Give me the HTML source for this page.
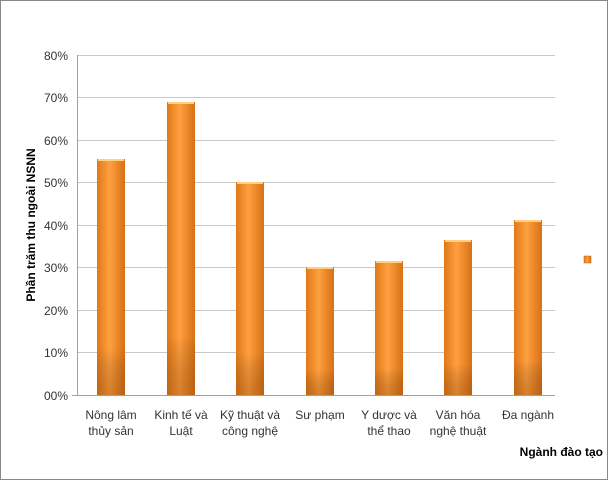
<!DOCTYPE html>
<html><head><meta charset="utf-8"><style>
body{margin:0;background:#fff}
svg{display:block;font-family:"Liberation Sans",sans-serif}
</style></head><body>
<svg width="608" height="480" viewBox="0 0 608 480">
<defs>
<linearGradient id="g" x1="0" x2="1" y1="0" y2="0">
<stop offset="0" stop-color="#e07818"/><stop offset="0.45" stop-color="#ffa040"/><stop offset="1" stop-color="#d87016"/>
</linearGradient>
<linearGradient id="v" x1="0" x2="0" y1="0" y2="1">
<stop offset="0" stop-color="#000" stop-opacity="0"/><stop offset="0.8" stop-color="#000" stop-opacity="0"/><stop offset="1" stop-color="#7a3a00" stop-opacity="0.3"/>
</linearGradient>
</defs>
<rect x="0.5" y="0.5" width="607" height="479" fill="#fff" stroke="#888"/>
<g stroke="#c8c8c8" stroke-width="1">
<line x1="77" x2="555" y1="55.5" y2="55.5"/><line x1="77" x2="555" y1="97.5" y2="97.5"/>
<line x1="77" x2="555" y1="140.5" y2="140.5"/><line x1="77" x2="555" y1="182.5" y2="182.5"/>
<line x1="77" x2="555" y1="225.5" y2="225.5"/><line x1="77" x2="555" y1="267.5" y2="267.5"/>
<line x1="77" x2="555" y1="310.5" y2="310.5"/><line x1="77" x2="555" y1="352.5" y2="352.5"/>
<line x1="72" x2="555" y1="395.5" y2="395.5" stroke="#a0a0a0"/>
<line x1="77.5" x2="77.5" y1="55" y2="395" stroke="#a0a0a0"/>
</g>
<g font-size="12" fill="#333" text-anchor="end">
<text x="68" y="60">80%</text><text x="68" y="102">70%</text><text x="68" y="145">60%</text>
<text x="68" y="187">50%</text><text x="68" y="230">40%</text><text x="68" y="272">30%</text>
<text x="68" y="315">20%</text><text x="68" y="357">10%</text><text x="68" y="400">00%</text>
</g>
<g>
<rect x="97" y="159" width="28" height="236" fill="url(#g)"/><rect x="97" y="159" width="28" height="236" fill="url(#v)"/>
<rect x="167" y="102" width="28" height="293" fill="url(#g)"/><rect x="167" y="102" width="28" height="293" fill="url(#v)"/>
<rect x="236" y="182" width="28" height="213" fill="url(#g)"/><rect x="236" y="182" width="28" height="213" fill="url(#v)"/>
<rect x="306" y="267" width="28" height="128" fill="url(#g)"/><rect x="306" y="267" width="28" height="128" fill="url(#v)"/>
<rect x="375" y="261" width="28" height="134" fill="url(#g)"/><rect x="375" y="261" width="28" height="134" fill="url(#v)"/>
<rect x="444" y="240" width="28" height="155" fill="url(#g)"/><rect x="444" y="240" width="28" height="155" fill="url(#v)"/>
<rect x="514" y="220" width="28" height="175" fill="url(#g)"/><rect x="514" y="220" width="28" height="175" fill="url(#v)"/>
</g>
<g fill="#ffd080">
<rect x="98" y="159" width="26" height="2"/><rect x="168" y="102" width="26" height="2"/><rect x="237" y="182" width="26" height="2"/>
<rect x="307" y="267" width="26" height="2"/><rect x="376" y="261" width="26" height="2"/><rect x="445" y="240" width="26" height="2"/><rect x="515" y="220" width="26" height="2"/>
</g>
<g font-size="12" fill="#333" text-anchor="middle">
<text x="111" y="419">Nông lâm</text><text x="111" y="435">thủy sản</text>
<text x="181" y="419">Kinh tế và</text><text x="181" y="435">Luật</text>
<text x="250" y="419">Kỹ thuật và</text><text x="250" y="435">công nghệ</text>
<text x="320" y="419">Sư phạm</text>
<text x="389" y="419">Y dược và</text><text x="389" y="435">thể thao</text>
<text x="458" y="419">Văn hóa</text><text x="458" y="435">nghệ thuật</text>
<text x="528" y="419">Đa ngành</text>
</g>
<text x="603" y="456" font-size="12" font-weight="bold" text-anchor="end" fill="#000">Ngành đào tạo</text>
<text transform="translate(35,225) rotate(-90)" font-size="12" font-weight="bold" text-anchor="middle" fill="#000">Phần trăm thu ngoài NSNN</text>
<rect x="584" y="256" width="7" height="7" fill="url(#g)" stroke="#c06010" stroke-width="0.5"/>
</svg>
</body></html>
